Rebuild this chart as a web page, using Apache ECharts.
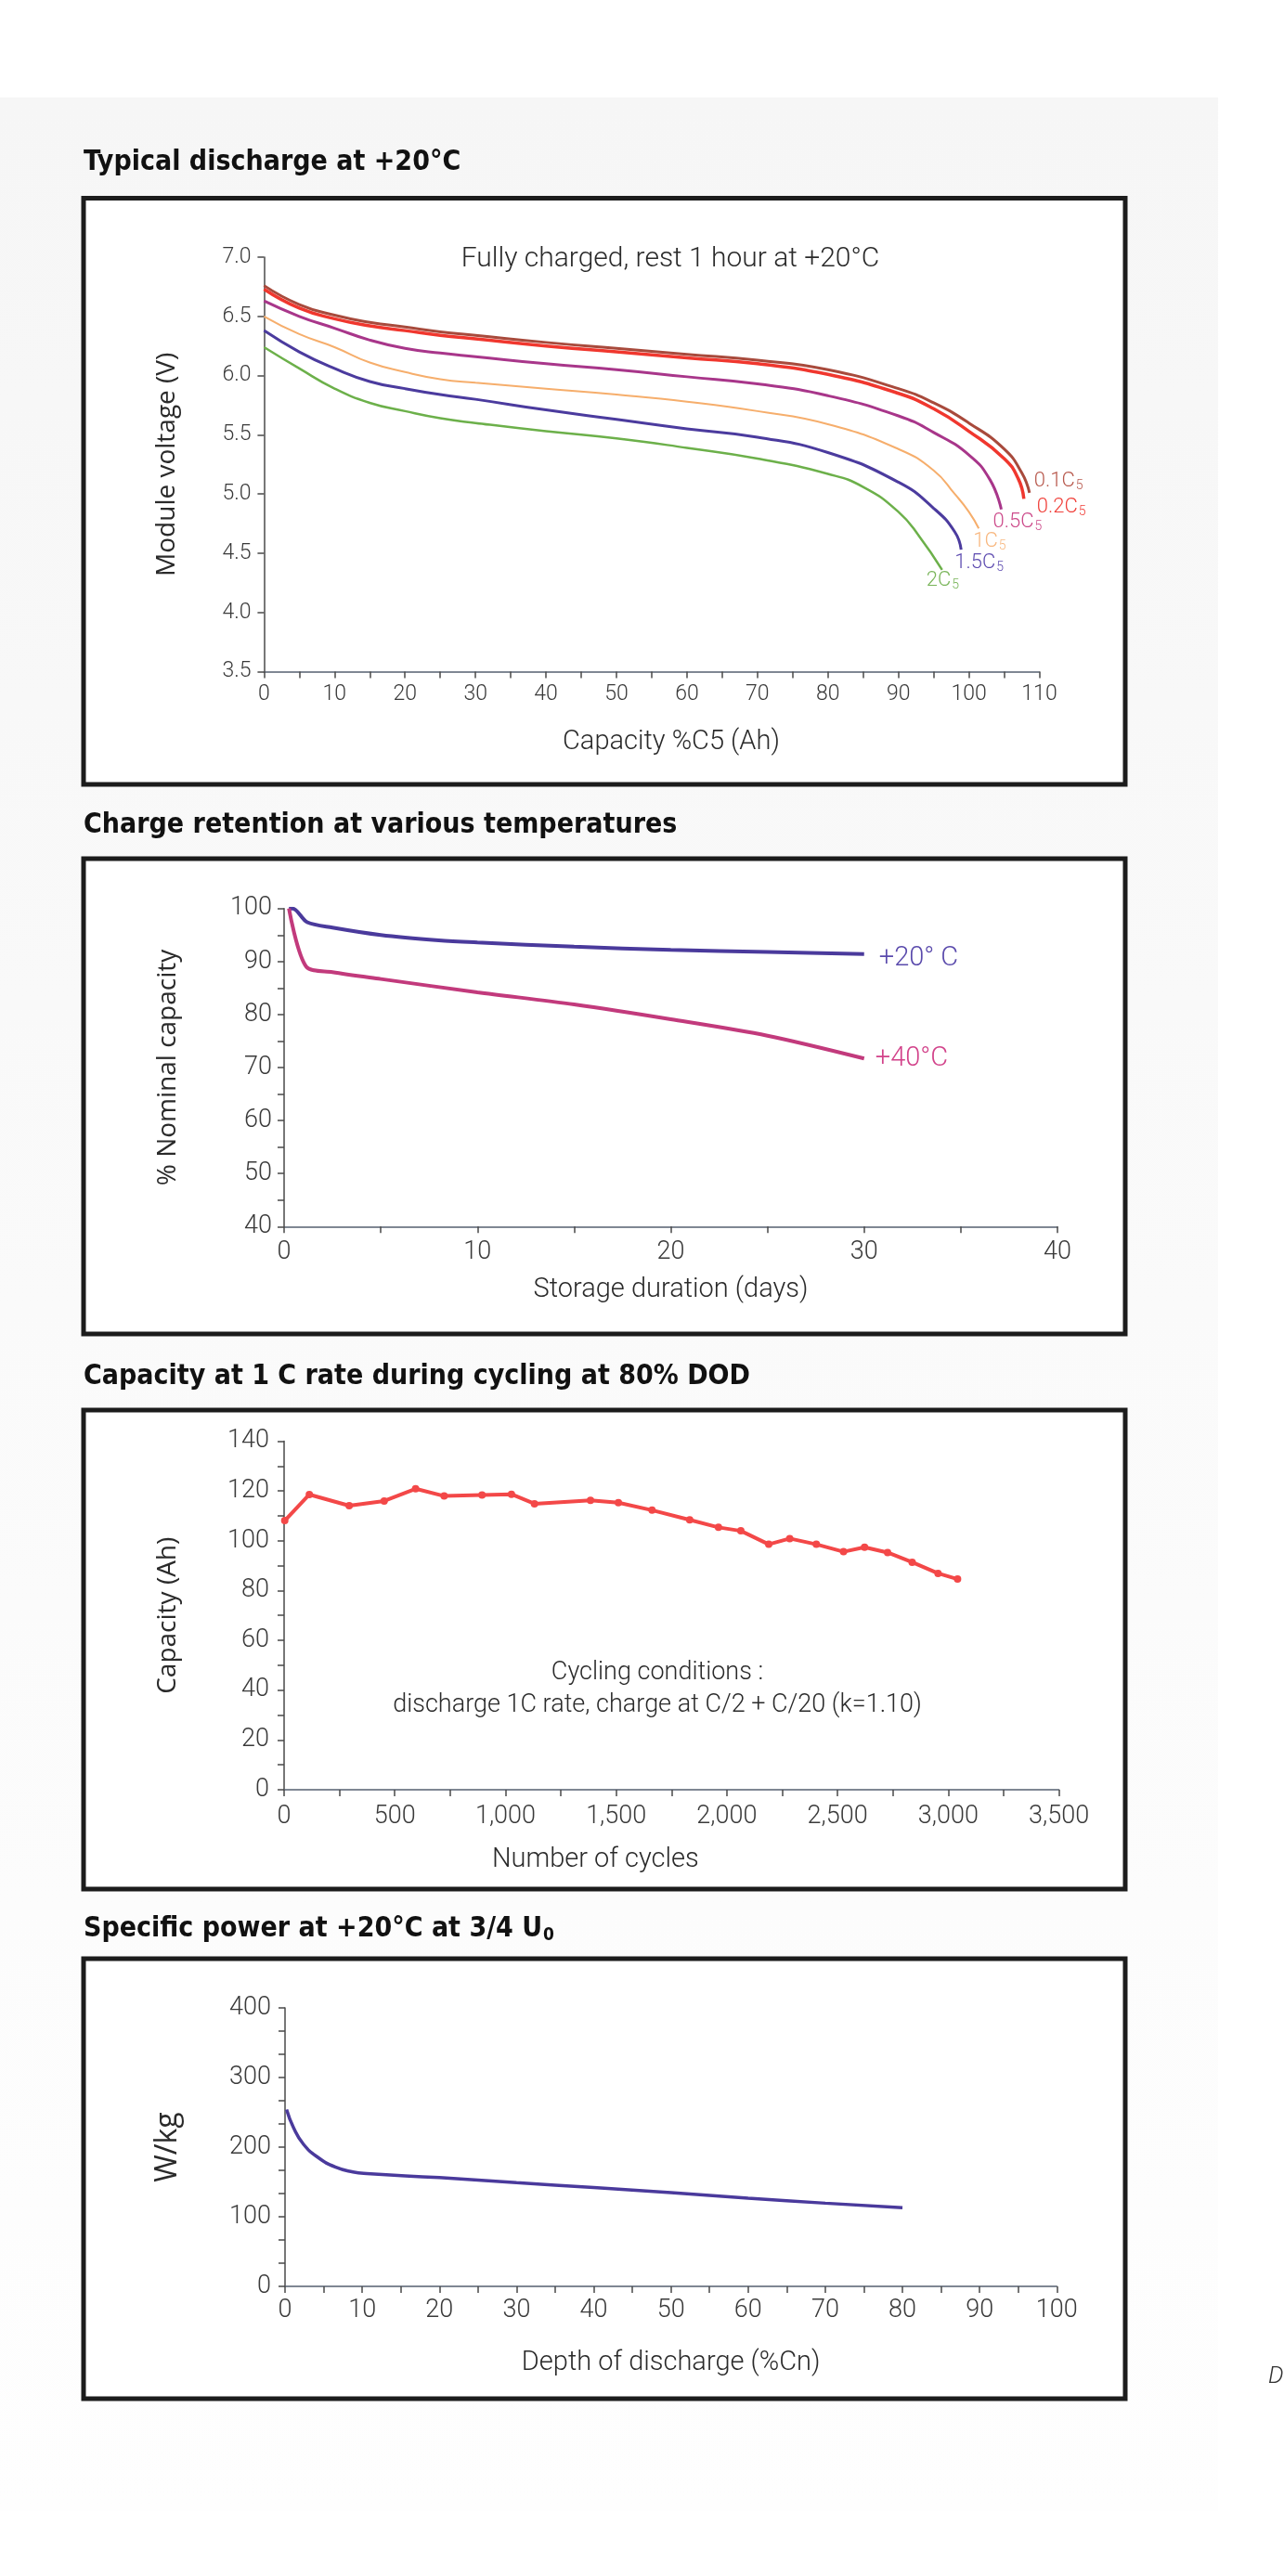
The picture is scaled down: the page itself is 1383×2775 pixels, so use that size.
<!DOCTYPE html>
<html><head><meta charset="utf-8">
<script src="https://cdn.jsdelivr.net/npm/echarts@6/dist/echarts.min.js"></script>
<style>html,body{margin:0;padding:0;background:#fff}#c{width:1383px;height:2775px}</style>
</head><body><div id="c"></div>
<script>
// ---------- Chart 1: Typical discharge at +20°C ----------
const dis01x = [0, 5, 10, 15, 20, 25, 30, 40, 50, 60, 70, 80, 90, 95, 100, 105, 107.5, 108.6];
const dis01y = [6.76, 6.60, 6.51, 6.45, 6.41, 6.37, 6.34, 6.28, 6.23, 6.18, 6.13, 6.05, 5.89, 5.77, 5.60, 5.38, 5.18, 5.01];
const dis02x = [0, 5, 10, 15, 20, 25, 30, 40, 50, 60, 70, 80, 90, 95, 100, 105, 107, 107.8];
const dis02y = [6.73, 6.57, 6.48, 6.42, 6.38, 6.34, 6.31, 6.25, 6.20, 6.15, 6.10, 6.01, 5.85, 5.72, 5.53, 5.30, 5.13, 4.96];
const dis05x = [0, 5, 10, 15, 20, 25, 30, 40, 50, 60, 70, 80, 90, 95, 100, 103, 104.6];
const dis05y = [6.63, 6.50, 6.40, 6.30, 6.23, 6.19, 6.16, 6.10, 6.05, 5.99, 5.93, 5.83, 5.66, 5.52, 5.33, 5.12, 4.87];
const dis1x  = [0, 5, 10, 15, 20, 25, 30, 40, 50, 60, 70, 80, 90, 95, 98, 100, 101.4];
const dis1y  = [6.50, 6.35, 6.24, 6.11, 6.03, 5.97, 5.94, 5.89, 5.84, 5.78, 5.70, 5.59, 5.38, 5.20, 5.00, 4.85, 4.71];
const dis15x = [0, 5, 10, 15, 20, 25, 30, 40, 50, 60, 70, 80, 90, 95, 98, 98.9];
const dis15y = [6.38, 6.20, 6.06, 5.95, 5.89, 5.84, 5.80, 5.71, 5.63, 5.55, 5.48, 5.35, 5.10, 4.88, 4.68, 4.53];
const dis2x  = [0, 5, 10, 15, 20, 25, 30, 40, 50, 60, 70, 80, 85, 90, 93, 96.2];
const dis2y  = [6.24, 6.06, 5.89, 5.77, 5.70, 5.64, 5.60, 5.53, 5.47, 5.39, 5.30, 5.17, 5.06, 4.85, 4.64, 4.36];
const dischargeRates = ['0.1C', '0.2C', '0.5C', '1C', '1.5C', '2C'];

// ---------- Chart 2: Charge retention ----------
const ret20x = [0.25, 0.45, 1.2, 2.5, 5, 8, 10, 15, 20, 25, 30];
const ret20y = [100, 100, 97.4, 96.4, 95.0, 94.0, 93.6, 92.8, 92.2, 91.8, 91.4];
const ret40x = [0.25, 1.15, 2.5, 5, 10, 15, 20, 25, 30];
const ret40y = [100, 89.0, 88.0, 86.7, 84.2, 81.9, 79.1, 76.0, 71.7];
const retentionLabels = ['+20° C', '+40°C'];

// ---------- Chart 3: Capacity during cycling ----------
const cycles = [3, 114, 294, 452, 594, 723, 894, 1027, 1131, 1384, 1510, 1662, 1832, 1962, 2063, 2189, 2284, 2404, 2527, 2622, 2726, 2837, 2954, 3042];
const capacityAh = [108.1, 118.6, 114.1, 116.0, 120.9, 118.0, 118.4, 118.7, 114.9, 116.3, 115.3, 112.3, 108.4, 105.4, 104.0, 98.6, 100.9, 98.6, 95.6, 97.4, 95.3, 91.4, 86.9, 84.6];

// ---------- Chart 4: Specific power ----------
const dodPct = [0.2, 1.1, 2.4, 4.3, 6.5, 8.8, 10.6, 20, 30, 40, 50, 60, 70, 80];
const powerWkg = [254, 228, 204, 185, 171.4, 164.3, 161.9, 156.2, 149, 141.9, 134.8, 126.7, 119.5, 113];

const zip = (xs, ys) => xs.map((x, i) => [x, ys[i]]);

const TICKF = 'Roboto, "Liberation Sans", sans-serif';
const NAMEF = '"Open Sans", "DejaVu Sans", sans-serif';
const TITLEF = '"DejaVu Sans Condensed", "DejaVu Sans", sans-serif';
const AXC = '#4a4a4a';

function xAxisCfg(idx, min, max, interval, labelEvery, name, fs, margin, nameGap, fmt, namePad) {
  return {
    type: 'value', gridIndex: idx, min, max, interval,
    splitLine: { show: false },
    axisLine: { show: true, lineStyle: { color: '#556070', width: 1.5 } },
    axisTick: { show: true, inside: false, length: 7, lineStyle: { color: AXC, width: 1.5 } },
    axisLabel: {
      margin, fontSize: fs, color: '#3a3a3a', fontFamily: TICKF, fontWeight: 300,
      formatter: v => (Math.abs(v % labelEvery) < 1e-9 ? (fmt ? fmt(v) : String(v)) : '')
    },
    name, nameLocation: 'middle', nameGap,
    nameTextStyle: { fontSize: 29, color: '#2a2a2a', fontFamily: TICKF, fontWeight: 300, padding: namePad || 0 }
  };
}
function yAxisCfg(idx, min, max, interval, minorSplit, name, fs, margin, nameGap, fmt, nfs) {
  return {
    type: 'value', gridIndex: idx, min, max, interval,
    splitLine: { show: false },
    axisLine: { show: true, lineStyle: { color: AXC, width: 1.5 } },
    axisTick: { show: true, inside: false, length: 7, lineStyle: { color: AXC, width: 1.5 } },
    minorTick: { show: minorSplit > 0, splitNumber: minorSplit || 5, length: 7, lineStyle: { color: AXC, width: 1.5 } },
    minorSplitLine: { show: false },
    axisLabel: { margin, fontSize: fs, color: '#3a3a3a', fontFamily: TICKF, fontWeight: 300, formatter: fmt },
    name, nameLocation: 'middle', nameGap, nameRotate: 90,
    nameTextStyle: { fontSize: nfs || 28, color: '#2a2a2a', fontFamily: NAMEF }
  };
}

const rateColors = ['#a84a3c', '#f0372e', '#a8368a', '#f6ae6c', '#4b3b9e', '#6cb04a'];
const rateLabelColors = ['#b85a4e', '#f0403a', '#cc4a8a', '#f8b880', '#5e4cb0', '#78b458'];
const rateWidths = [3, 3.5, 3, 2, 3, 2.5];
const rateOffsets = [[5, -12], [14, 9], [-9, 14], [-6, 14], [-7, 14], [-17, 12]];
const disX = [dis01x, dis02x, dis05x, dis1x, dis15x, dis2x];
const disY = [dis01y, dis02y, dis05y, dis1y, dis15y, dis2y];

const series = [];
dischargeRates.forEach((r, i) => {
  series.push({
    type: 'line', name: r + '5', xAxisIndex: 0, yAxisIndex: 0,
    data: zip(disX[i], disY[i]), showSymbol: false, smooth: 0.5,
    lineStyle: { color: rateColors[i], width: rateWidths[i] },
    endLabel: {
      show: true, distance: 0, offset: rateOffsets[i], align: 'left', verticalAlign: 'middle',
      formatter: () => '{m|' + r + '}{s|5}',
      rich: {
        m: { fontSize: 22, color: rateLabelColors[i], fontFamily: TICKF, fontWeight: 300 },
        s: { fontSize: 14, color: rateLabelColors[i], fontFamily: TICKF, fontWeight: 300, padding: [10, 0, 0, 1] }
      }
    }
  });
});

const retColors = ['#4a3a9c', '#c23a7c'];
const retLabelColors = ['#5a4aac', '#d2428a'];
const retOffsets = [[16, 5], [12, 0]];
[zip(ret20x, ret20y), zip(ret40x, ret40y)].forEach((d, i) => {
  series.push({
    type: 'line', name: retentionLabels[i], xAxisIndex: 1, yAxisIndex: 1,
    data: d, showSymbol: false, smooth: 0.3,
    lineStyle: { color: retColors[i], width: 4 },
    endLabel: {
      show: true, distance: 0, offset: retOffsets[i], align: 'left', verticalAlign: 'middle',
      formatter: retentionLabels[i], fontSize: 29, color: retLabelColors[i], fontFamily: TICKF, fontWeight: 300
    }
  });
});

series.push({
  type: 'line', name: 'Capacity', xAxisIndex: 2, yAxisIndex: 2,
  data: zip(cycles, capacityAh), symbol: 'circle', symbolSize: 8, showSymbol: true,
  lineStyle: { color: '#f34848', width: 4 }, itemStyle: { color: '#f34848' }
});

series.push({
  type: 'line', name: 'W/kg', xAxisIndex: 3, yAxisIndex: 3,
  data: zip(dodPct, powerWkg), showSymbol: false, smooth: 0.5,
  lineStyle: { color: '#4a3a9c', width: 3.5 }
});

function box(top, bottom) {
  return { type: 'rect', z: -5, shape: { x: 90, y: top, width: 1122, height: bottom - top },
    style: { fill: '#ffffff', stroke: '#1c1c1c', lineWidth: 5 } };
}
function title(text, y, rich) {
  return { type: 'text', z: 5, x: 90, y, style: { text, fontSize: 30, fontWeight: 'bold', fontFamily: TITLEF,
    fill: '#111', verticalAlign: 'middle', align: 'left', rich } };
}
function note(text, x, y, fs) {
  return { type: 'text', z: 5, x, y, style: { text, fontSize: fs, fontFamily: TICKF, fontWeight: 300,
    fill: '#2a2a2a', align: 'center', verticalAlign: 'middle' } };
}

const option = {
  animation: false,
  backgroundColor: '#ffffff',
  grid: [
    { left: 284.4, top: 277, width: 835.1, height: 446.6 },
    { left: 306, top: 978.7, width: 833, height: 342.6 },
    { left: 306, top: 1552.6, width: 834.6, height: 375.3 },
    { left: 307, top: 2163, width: 831.3, height: 300 }
  ],
  xAxis: [
    xAxisCfg(0, 0, 110, 5, 10, 'Capacity %C5 (Ah)', 23, 13, 62, null, [0, 0, 0, 42]),
    xAxisCfg(1, 0, 40, 5, 10, 'Storage duration (days)', 27, 14, 54),
    xAxisCfg(2, 0, 3500, 250, 500, 'Number of cycles', 27, 16, 61, v => v.toLocaleString('en-US'), [0, 164, 0, 0]),
    xAxisCfg(3, 0, 100, 5, 10, 'Depth of discharge (%Cn)', 27, 13, 68)
  ],
  yAxis: [
    yAxisCfg(0, 3.5, 7.0, 0.5, 0, 'Module voltage (V)', 23, 14, 90, v => v.toFixed(1)),
    yAxisCfg(1, 40, 100, 10, 2, '% Nominal capacity', 27, 13, 111),
    yAxisCfg(2, 0, 140, 20, 2, 'Capacity (Ah)', 27, 16, 111),
    yAxisCfg(3, 0, 400, 100, 3, 'W/kg', 27, 15, 110, null, 32)
  ],
  series,
  graphic: [
    { type: 'rect', z: -10, shape: { x: 0, y: 105, width: 1312, height: 2600 },
      style: { fill: { type: 'linear', x: 0, y: 0, x2: 0, y2: 1,
        colorStops: [{ offset: 0, color: '#f6f6f6' }, { offset: 0.5, color: '#fafafa' }, { offset: 1, color: '#fefefe' }] } } },
    box(213.5, 845), box(925, 1437), box(1519, 2035), box(2110, 2584),
    title('Typical discharge at +20°C', 175),
    title('Charge retention at various temperatures', 889),
    title('Capacity at 1 C rate during cycling at 80% DOD', 1483),
    title('Specific power at +20°C at 3/4 U{s|0}', 2078, { s: { fontSize: 19, fontWeight: 'bold', fontFamily: TITLEF, fill: '#111', padding: [15, 0, 0, 1] } }),
    note('Fully charged, rest 1 hour at +20°C', 722, 279, 30),
    note('Cycling conditions :', 708, 1802, 27),
    note('discharge 1C rate, charge at C/2 + C/20 (k=1.10)', 708, 1837, 27),
    { type: 'text', z: 5, x: 1366, y: 2560, style: { text: 'D', fontSize: 26, fontStyle: 'italic', fontFamily: TICKF,
      fontWeight: 300, fill: '#333', verticalAlign: 'middle' } }
  ]
};
const chart = echarts.init(document.getElementById('c'), null, { renderer: 'canvas' });
chart.setOption(option);
</script>
</body></html>
